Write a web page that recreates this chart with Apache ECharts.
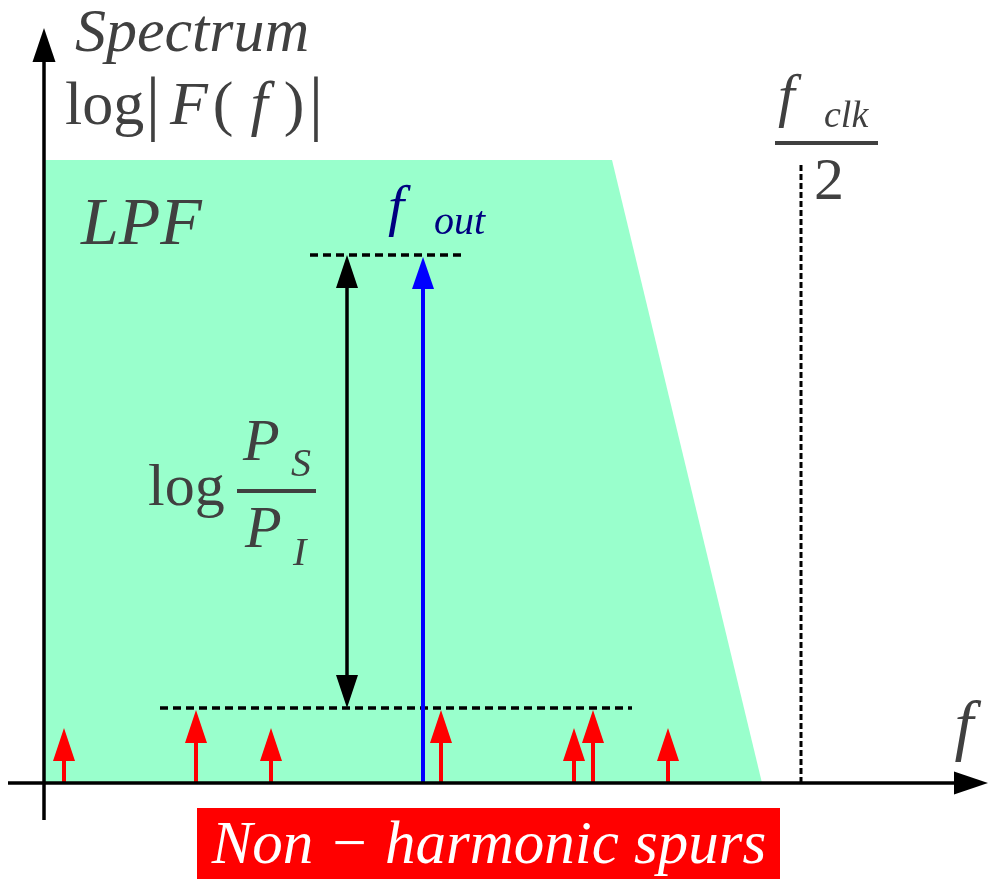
<!DOCTYPE html>
<html>
<head>
<meta charset="utf-8">
<script src="https://cdn.jsdelivr.net/npm/echarts@6/dist/echarts.min.js"></script>
<style>html,body{margin:0;padding:0;background:#fff}#c{width:998px;height:890px}</style>
</head>
<body>
<div id="c"></div>
<script>
// ---- data (frequency units along f, log-magnitude units along the vertical) ----
const lpfFreq = [0, 568, 718];
const lpfLevel = [623, 623, 0];
const spurFreq = [20, 152, 227, 397, 530, 549, 624];
const spurLevel = [55, 73, 55, 73, 55, 73, 55];
const foutFreq = 379;
const foutLevel = 526;
const signalRefLevel = 528;
const spurRefLevel = 75;
const ratioArrowFreq = 303;
const signalRefSpan = [266, 418];
const spurRefSpan = [116, 588];
const halfClockFreq = 757;
const halfClockTop = 620;
const fAxisSpan = [-36, 944];
const magAxisSpan = [-37, 755];

const FAMILY = "'Liberation Serif','DejaVu Serif',serif";
const GRAY = '#404040';

function arrowRender(color, shaftW, headW, headL, doubleHead) {
  return function (params, api) {
    const p0 = api.coord([api.value(0), api.value(1)]);
    const p1 = api.coord([api.value(2), api.value(3)]);
    const dx = p1[0] - p0[0], dy = p1[1] - p0[1];
    const len = Math.sqrt(dx * dx + dy * dy) || 1;
    const ux = dx / len, uy = dy / len, nx = -uy, ny = ux;
    const children = [];
    const s0 = doubleHead ? [p0[0] + ux * headL * 0.9, p0[1] + uy * headL * 0.9] : p0;
    const s1 = [p1[0] - ux * headL * 0.9, p1[1] - uy * headL * 0.9];
    children.push({type: 'line', shape: {x1: s0[0], y1: s0[1], x2: s1[0], y2: s1[1]},
      style: {stroke: color, lineWidth: shaftW}});
    function head(tip, sx) {
      const bx = tip[0] - sx * ux * headL, by = tip[1] - sx * uy * headL;
      children.push({type: 'polygon', shape: {points: [tip,
        [bx + nx * headW / 2, by + ny * headW / 2], [bx - nx * headW / 2, by - ny * headW / 2]]},
        style: {fill: color}});
    }
    head(p1, 1);
    if (doubleHead) head(p0, -1);
    return {type: 'group', children: children};
  };
}
function dashRender(dash, width) {
  return function (params, api) {
    const p0 = api.coord([api.value(0), api.value(1)]);
    const p1 = api.coord([api.value(2), api.value(3)]);
    return {type: 'line', shape: {x1: p0[0], y1: p0[1], x2: p1[0], y2: p1[1]},
      style: {stroke: '#000', lineWidth: width, lineDash: dash}};
  };
}

// text placed by its alphabetic baseline
function txt(text, x, baseline, size, italic, color, align) {
  return {type: 'text', z: 100, style: {
    text: text, x: x, y: baseline - 0.32 * size,
    font: (italic ? 'italic ' : '') + size + 'px ' + FAMILY,
    fill: color || GRAY, align: align || 'left', verticalAlign: 'middle'}};
}

const chart = echarts.init(document.getElementById('c'), null, {renderer: 'canvas'});
chart.setOption({
  animation: false,
  backgroundColor: '#fff',
  grid: {left: 0, right: 0, top: 0, bottom: 0},
  xAxis: {type: 'value', min: -44, max: 954, show: false},
  yAxis: {type: 'value', min: -107, max: 783, show: false},
  series: [
    {type: 'line', z: 1, data: lpfFreq.map((f, i) => [f, lpfLevel[i]]),
      showSymbol: false, lineStyle: {width: 0}, areaStyle: {color: '#99ffcc', opacity: 1}},
    {type: 'custom', z: 3, renderItem: dashRender([8, 5], 3.5),
      data: [[signalRefSpan[0], signalRefLevel, signalRefSpan[1], signalRefLevel],
             [spurRefSpan[0], spurRefLevel, spurRefSpan[1], spurRefLevel]]},
    {type: 'custom', z: 3, renderItem: dashRender([6, 3], 3),
      data: [[halfClockFreq, 0, halfClockFreq, halfClockTop]]},
    {type: 'custom', z: 4, renderItem: arrowRender('#000', 3.5, 22, 33, true),
      data: [[ratioArrowFreq, spurRefLevel, ratioArrowFreq, signalRefLevel]]},
    {type: 'custom', z: 4, renderItem: arrowRender('#0000ff', 4, 22, 32, false),
      data: [[foutFreq, 0, foutFreq, foutLevel]]},
    {type: 'custom', z: 4, renderItem: arrowRender('#ff0000', 4, 22, 33, false),
      data: spurFreq.map((f, i) => [f, 0, f, spurLevel[i]])},
    {type: 'custom', z: 5, renderItem: arrowRender('#000', 3.5, 23, 34, false),
      data: [[fAxisSpan[0], 0, fAxisSpan[1], 0], [0, magAxisSpan[0], 0, magAxisSpan[1]]]}
  ],
  graphic: [
    txt('Spectrum', 75, 55, 62, true),
    txt('log', 65, 128, 62, false),
    txt('|', 153, 131, 72, false, GRAY, 'center'),
    txt('F', 189, 128, 62, true, GRAY, 'center'),
    txt('(', 223, 128, 62, false, GRAY, 'center'),
    txt('f', 259, 128, 62, true, GRAY, 'center'),
    txt(')', 294, 128, 62, false, GRAY, 'center'),
    txt('|', 316, 131, 72, false, GRAY, 'center'),
    txt('LPF', 81, 248, 68, true),
    txt('f', 388, 228, 58, true, '#000080'),
    txt('out', 434, 236, 40, true, '#000080'),
    txt('f', 778, 118, 60, true),
    txt('clk', 824, 129, 38, true),
    {type: 'rect', z: 100, shape: {x: 775, y: 141, width: 103, height: 4}, style: {fill: GRAY}},
    txt('2', 829, 202, 60, false, GRAY, 'center'),
    txt('log', 148, 508, 60, false),
    {type: 'rect', z: 100, shape: {x: 237, y: 489, width: 79, height: 4}, style: {fill: GRAY}},
    txt('P', 243, 463, 60, true),
    txt('S', 291, 478, 40, true),
    txt('P', 245, 550, 60, true),
    txt('I', 293, 567, 40, true),
    txt('f', 964, 752, 68, true, GRAY, 'center'),
    {type: 'rect', z: 100, shape: {x: 197, y: 808, width: 583, height: 71}, style: {fill: '#ff0000'}},
    txt('Non \u2212 harmonic spurs', 489, 866, 61, true, '#ffffff', 'center')
  ]
});
</script>
</body>
</html>
